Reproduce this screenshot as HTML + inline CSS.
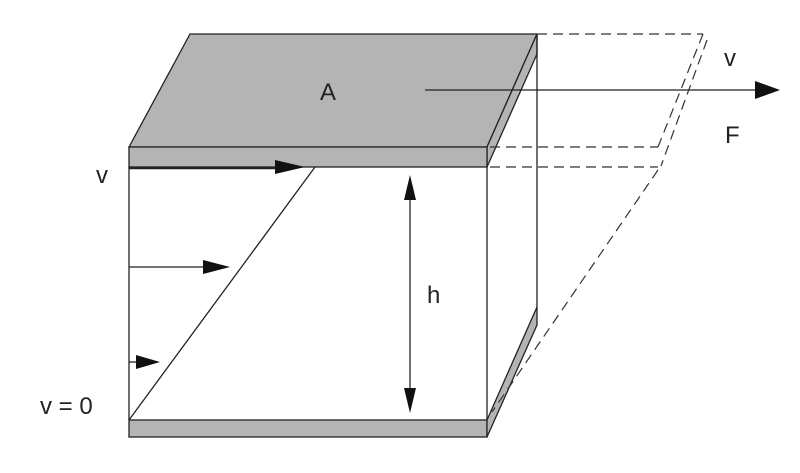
<!DOCTYPE html>
<html><head><style>body{margin:0;background:#fff}svg{display:block}text{font-family:"Liberation Sans",sans-serif;fill:#222}</style></head>
<body>
<svg width="800" height="473" viewBox="0 0 800 473" xmlns="http://www.w3.org/2000/svg">
<rect width="800" height="473" fill="#fff"/>
<g stroke="#222" stroke-width="1.3" fill="#b4b4b5">
<polygon points="129,147 190,34 537,34 487,147"/>
<polygon points="487,147 537,34 537,54 487,167"/>
<rect x="129" y="147" width="358" height="20"/>
<rect x="129" y="420" width="358" height="17"/>
<polygon points="487,420 537,307 537,325 487,437"/>
</g>
<g stroke="#222" stroke-width="1.3" fill="none">
<line x1="129" y1="167" x2="129" y2="420"/>
<line x1="487" y1="167" x2="487" y2="420"/>
<line x1="537" y1="34" x2="537" y2="307"/>
<line x1="129" y1="420" x2="315" y2="167"/>
<line x1="425" y1="90" x2="760" y2="90"/>
<line x1="129" y1="168" x2="280" y2="168" stroke-width="2.5"/>
<line x1="129" y1="267" x2="205" y2="267"/>
<line x1="129" y1="362" x2="138" y2="362"/>
<line x1="410" y1="190" x2="410" y2="398"/>
</g>
<g stroke="#333" stroke-width="1.2" fill="none" stroke-dasharray="10,6">
<line x1="537" y1="34" x2="703" y2="34"/>
<line x1="703" y1="34" x2="658" y2="147"/>
<line x1="707" y1="40" x2="661" y2="166"/>
<line x1="490" y1="147" x2="658" y2="147"/>
<line x1="490" y1="167" x2="658" y2="167"/>
<line x1="658" y1="170" x2="492" y2="412"/>
</g>
<g fill="#111">
<polygon points="755,81 780,90 755,99"/>
<polygon points="275,160 305,167 275,174"/>
<polygon points="203,260 230,267 203,274"/>
<polygon points="136,355 160,362 136,369"/>
<polygon points="404,200 410,175 416,200"/>
<polygon points="404,388 410,413 416,388"/>
</g>
<g font-size="24">
<text x="320" y="100">A</text>
<text x="724" y="66">v</text>
<text x="725" y="143">F</text>
<text x="96" y="183">v</text>
<text x="427" y="303">h</text>
<text x="40" y="414">v = 0</text>
</g>
</svg>
</body></html>
